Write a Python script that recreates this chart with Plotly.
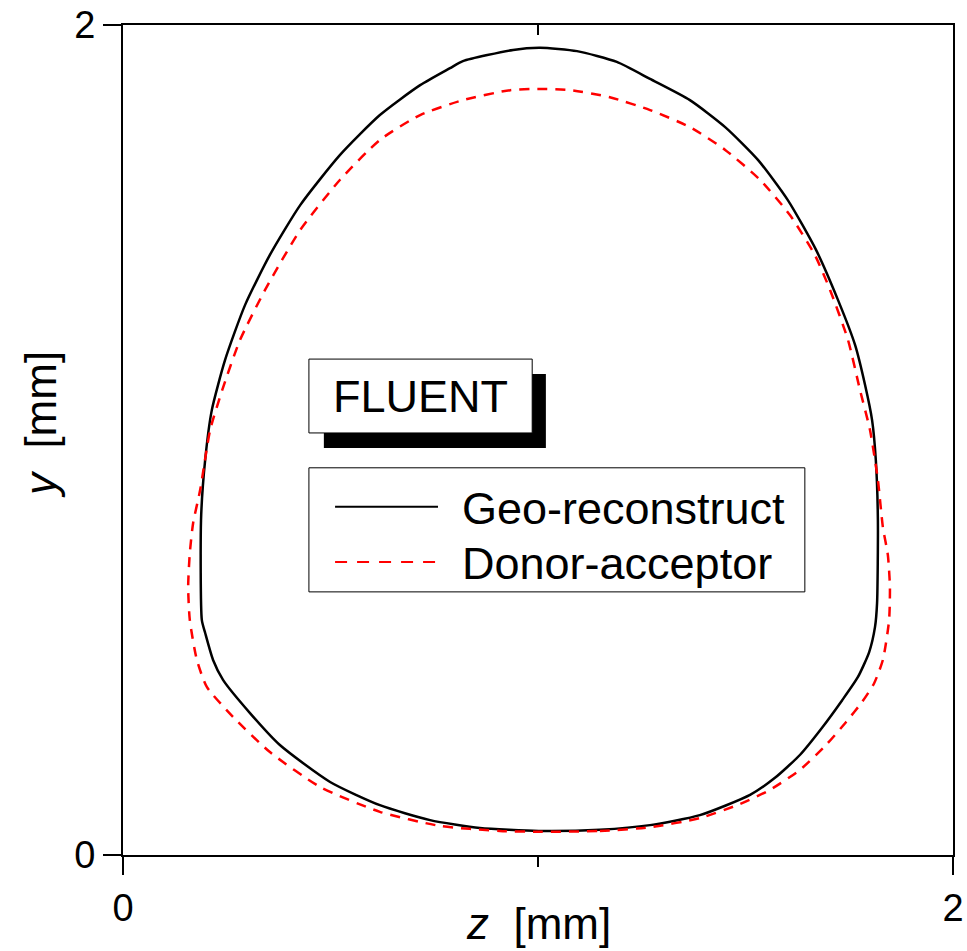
import plotly.graph_objects as go

# Geo-reconstruct interface contour (z, y in mm)
geo_z = [1.002, 1.149, 1.270, 1.390, 1.511, 1.571, 1.631, 1.684, 1.733, 1.771, 1.798, 1.812,
         1.817, 1.819, 1.814, 1.805, 1.788, 1.764, 1.723, 1.670, 1.602, 1.530, 1.451, 1.366,
         1.270, 1.190, 1.094, 1.005, 0.940, 0.819, 0.788, 0.716, 0.619, 0.523, 0.427, 0.354,
         0.294, 0.246, 0.214, 0.198, 0.188, 0.190, 0.198, 0.217, 0.241, 0.306, 0.378, 0.499,
         0.619, 0.740, 0.860, 1.002]
geo_y = [0.058, 0.061, 0.072, 0.096, 0.145, 0.186, 0.241, 0.306, 0.373, 0.429, 0.489, 0.549,
         0.607, 0.807, 0.952, 1.048, 1.133, 1.229, 1.337, 1.458, 1.578, 1.675, 1.754, 1.819,
         1.870, 1.911, 1.937, 1.945, 1.940, 1.913, 1.896, 1.855, 1.783, 1.687, 1.566, 1.446,
         1.325, 1.193, 1.072, 0.952, 0.807, 0.566, 0.535, 0.470, 0.422, 0.342, 0.265, 0.176,
         0.120, 0.084, 0.065, 0.058]

# Donor-acceptor interface contour (z, y in mm)
da_z = [1.002, 1.149, 1.270, 1.390, 1.487, 1.559, 1.631, 1.694, 1.742, 1.781, 1.810, 1.831,
        1.846, 1.848, 1.843, 1.831, 1.819, 1.800, 1.776, 1.747, 1.704, 1.667, 1.607, 1.535,
        1.451, 1.366, 1.270, 1.173, 1.077, 1.005, 0.933, 0.819, 0.716, 0.619, 0.523, 0.427,
        0.342, 0.282, 0.239, 0.210, 0.186, 0.169, 0.161, 0.157, 0.161, 0.178, 0.202, 0.265,
        0.354, 0.475, 0.619, 0.764, 0.908, 1.002]
da_y = [0.056, 0.058, 0.067, 0.089, 0.123, 0.157, 0.205, 0.265, 0.320, 0.369, 0.414, 0.470,
        0.566, 0.646, 0.723, 0.790, 0.904, 1.024, 1.120, 1.241, 1.361, 1.446, 1.542, 1.627,
        1.699, 1.754, 1.795, 1.826, 1.843, 1.846, 1.843, 1.819, 1.783, 1.723, 1.627, 1.506,
        1.361, 1.241, 1.120, 1.024, 0.880, 0.800, 0.728, 0.646, 0.566, 0.470, 0.405, 0.333,
        0.248, 0.164, 0.104, 0.070, 0.058, 0.056]

tick_vals = [0, 2]
tick_text = ["0", "2"]
series_names = ["Geo-reconstruct", "Donor-acceptor"]
box_label = "FLUENT"
x_title = "<i>z</i>  [mm]"
y_title = "<i>y</i>  [mm]"

FONT = "Arial, Liberation Sans, sans-serif"

fig = go.Figure()
fig.add_trace(go.Scatter(x=geo_z, y=geo_y, mode="lines", name=series_names[0],
                         line=dict(color="black", width=2.5, shape="spline", smoothing=0.6),
                         showlegend=False, xaxis="x", yaxis="y"))
fig.add_trace(go.Scatter(x=da_z, y=da_y, mode="lines", name=series_names[1],
                         line=dict(color="red", width=2.5, dash="10px,8px", shape="spline",
                                   smoothing=0.6),
                         showlegend=False, xaxis="x2", yaxis="y2"))

axis_common = dict(range=[0, 2], showgrid=False, zeroline=False, showline=True,
                   linecolor="black", linewidth=2, tickvals=tick_vals, ticktext=tick_text,
                   tickwidth=2, tickcolor="black", ticklen=18, automargin=False,
                   ticklabeloverflow="allow",
                   tickfont=dict(family=FONT, size=38, color="black"))

shapes = [
    # FLUENT shadow and box
    dict(type="rect", xref="x", yref="y", x0=0.484, x1=1.019, y0=0.981, y1=1.159,
         fillcolor="black", line=dict(width=0)),
    dict(type="rect", xref="x", yref="y", x0=0.448, x1=0.986, y0=1.017, y1=1.195,
         fillcolor="white", line=dict(color="black", width=1)),
    # legend box
    dict(type="rect", xref="x", yref="y", x0=0.448, x1=1.643, y0=0.634, y1=0.933,
         fillcolor="white", line=dict(color="black", width=1)),
    dict(type="line", xref="x", yref="y", x0=0.511, x1=0.759, y0=0.839, y1=0.839,
         line=dict(color="black", width=2)),
    dict(type="line", xref="x", yref="y", x0=0.511, x1=0.759, y0=0.706, y1=0.706,
         line=dict(color="red", width=2, dash="12px,10px")),
]

annotations = [
    dict(text=box_label, xref="x", yref="y", x=0.716, y=1.106, showarrow=False,
         xanchor="center", yanchor="middle", font=dict(family=FONT, size=45, color="black")),
    dict(text=series_names[0], xref="x", yref="y", x=0.812, y=0.836, showarrow=False,
         xanchor="left", yanchor="middle", font=dict(family=FONT, size=45, color="black")),
    dict(text=series_names[1], xref="x", yref="y", x=0.812, y=0.703, showarrow=False,
         xanchor="left", yanchor="middle", font=dict(family=FONT, size=45, color="black")),
    dict(text=x_title, xref="paper", yref="paper", x=0.501, y=-0.083, showarrow=False,
         xanchor="center", yanchor="middle", font=dict(family=FONT, size=44, color="black")),
    dict(text=y_title, xref="paper", yref="paper", x=-0.10, y=0.518, showarrow=False,
         textangle=-90, xanchor="center", yanchor="middle",
         font=dict(family=FONT, size=44, color="black")),
]

fig.update_layout(
    width=967, height=951,
    margin=dict(l=123, r=14, t=25, b=96, autoexpand=False),
    paper_bgcolor="white", plot_bgcolor="white",
    xaxis=dict(**axis_common, ticks="outside",
               minor=dict(tickvals=[1], ticks="outside", ticklen=10, tickwidth=2, tickcolor="black")),
    yaxis=dict(**axis_common, ticks="outside"),
    xaxis2=dict(**axis_common, overlaying="x", side="top", ticks="inside", showticklabels=False,
                minor=dict(tickvals=[1], ticks="inside", ticklen=10, tickwidth=2, tickcolor="black")),
    yaxis2=dict(**axis_common, overlaying="y", side="right", ticks="", showticklabels=False),
    shapes=shapes,
    annotations=annotations,
    showlegend=False,
)

fig.write_html("out.html", config={"displayModeBar": False},
               post_script="document.body.style.margin='0';document.body.style.overflow='hidden';")
